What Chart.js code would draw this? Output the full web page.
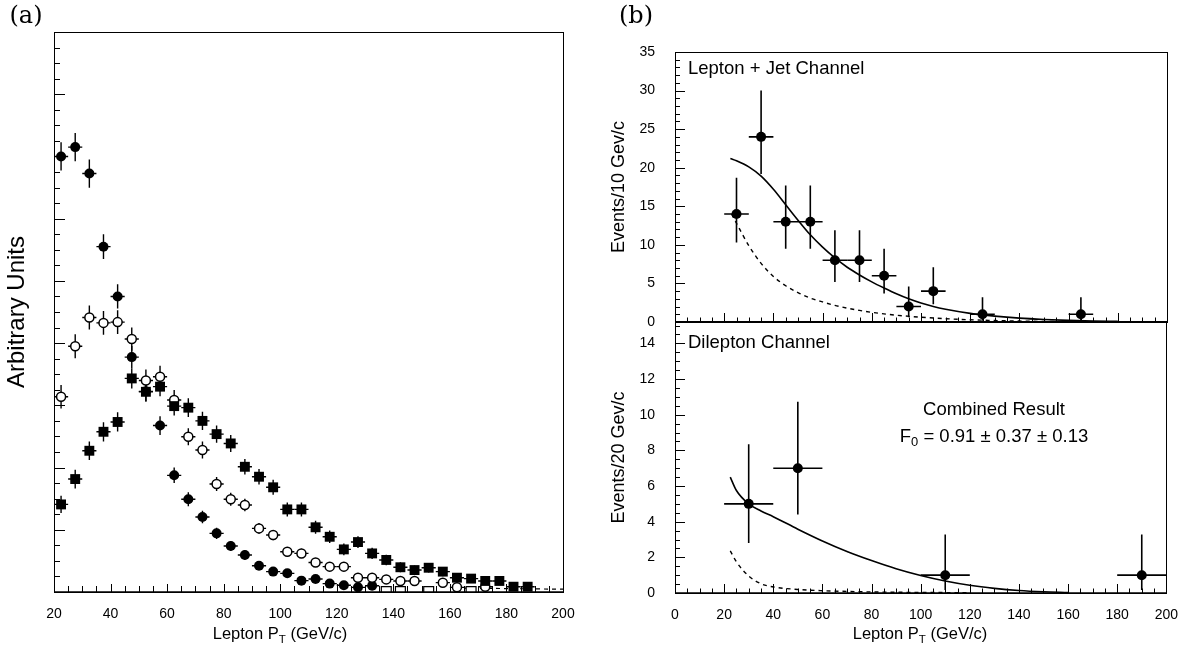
<!DOCTYPE html>
<html>
<head>
<meta charset="utf-8">
<script src="https://cdn.jsdelivr.net/npm/chart.js@4.4.0/dist/chart.umd.min.js"></script>
<style>
  html, body { margin: 0; padding: 0; background: #fff; }
  #wrap { position: relative; width: 1184px; height: 647px; overflow: hidden;
          font-family: "Liberation Sans", Arial, sans-serif; color: #000; }
  canvas { position: absolute; left: 0; top: 0; }
  .lbl { position: absolute; white-space: nowrap; line-height: 1; transform: translate(-50%, -50%); }
  .left { transform: translate(0, -50%); }
  .serif { font-family: "DejaVu Serif", "Liberation Serif", serif; font-size: 24px; }
  sub { font-size: 70%; vertical-align: -0.35em; line-height: 0; }
</style>
</head>
<body>
<div id="wrap">
  <canvas id="chartA" width="1184" height="647"></canvas>
  <canvas id="chartTop" width="1184" height="647"></canvas>
  <canvas id="chartBot" width="1184" height="647"></canvas>

  <div class="lbl serif" style="left:26px; top:15px;">(a)</div>
  <div class="lbl serif" style="left:636px; top:15px;">(b)</div>
  <div class="lbl" style="left:280px; top:633px; font-size:16.5px;">Lepton P<sub>T</sub> (GeV/c)</div>
  <div class="lbl" style="left:920px; top:633px; font-size:16.5px;">Lepton P<sub>T</sub> (GeV/c)</div>
  <div class="lbl left" style="left:688px; top:68px; font-size:18.5px;">Lepton + Jet Channel</div>
  <div class="lbl left" style="left:688px; top:342px; font-size:18.5px;">Dilepton Channel</div>
  <div class="lbl" style="left:994px; top:409px; font-size:18.5px;">Combined Result</div>
  <div class="lbl" style="left:994px; top:436px; font-size:18.5px;">F<sub>0</sub> = 0.91 ± 0.37 ± 0.13</div>
</div>

<script>
// ---------- panel (a): lepton pT shapes, 5 GeV bins
const binsA = [22.5, 27.5, 32.5, 37.5, 42.5, 47.5, 52.5, 57.5, 62.5, 67.5, 72.5, 77.5,
  82.5, 87.5, 92.5, 97.5, 102.5, 107.5, 112.5, 117.5, 122.5, 127.5, 132.5, 137.5,
  142.5, 147.5, 152.5, 157.5, 162.5, 167.5, 172.5, 177.5, 182.5, 187.5];

// filled circles
const circA = [28.0, 28.6, 26.9, 22.2, 19.0, 15.1, 12.9, 10.7, 7.5, 5.96, 4.82, 3.77,
  2.96, 2.38, 1.69, 1.31, 1.2, 0.73, 0.84, 0.54, 0.43, 0.3, 0.4, null,
  null, null, null, null, null, null, null, null, null, null];
const circErrA = [0.91, 0.91, 0.91, 0.8, 0.78, 0.72, 0.65, 0.6, 0.5, 0.45, 0.4, 0.36,
  0.32, 0.3, 0.27, 0.25, 0.24, 0.2, 0.2, 0.18, 0.16, 0.14, 0.15, null,
  null, null, null, null, null, null, null, null, null, null];

// open circles
const openA = [12.55, 15.8, 17.65, 17.3, 17.35, 16.26, 13.6, 13.84, 12.34, 9.98, 9.13, 6.94,
  5.96, 5.59, 4.09, 3.66, 2.59, 2.48, 1.9, 1.63, 1.63, 0.92, 0.92, 0.81,
  0.71, 0.71, null, 0.6, 0.3, null, 0.34, null, null, null];
const openErrA = [0.75, 0.77, 0.77, 0.77, 0.77, 0.75, 0.7, 0.7, 0.65, 0.55, 0.55, 0.45,
  0.42, 0.4, 0.35, 0.33, 0.3, 0.3, 0.27, 0.25, 0.25, 0.2, 0.2, 0.18,
  0.18, 0.18, null, 0.16, 0.12, null, 0.12, null, null, null];

// filled squares
const sqA = [5.63, 7.26, 9.08, 10.3, 10.93, 13.73, 12.87, 13.2, 11.95, 11.85, 11.0, 10.15,
  9.55, 8.05, 7.41, 6.73, 5.31, 5.31, 4.16, 3.55, 2.74, 3.21, 2.48, 2.06,
  1.59, 1.41, 1.56, 1.31, 0.92, 0.86, 0.71, 0.71, 0.34, 0.34];
const sqErrA = [0.55, 0.6, 0.6, 0.62, 0.62, 0.65, 0.62, 0.62, 0.6, 0.6, 0.58, 0.55,
  0.55, 0.5, 0.5, 0.48, 0.45, 0.45, 0.42, 0.4, 0.38, 0.38, 0.36, 0.34,
  0.32, 0.3, 0.3, 0.3, 0.28, 0.28, 0.26, 0.26, 0.24, 0.24];

// open squares sitting on the axis, and dashed tail
const tailBinsA = [137.5, 142.5, 152.5, 167.5];
const tailA = [0.03, 0.03, 0.03, 0.03];
const dashXA = [165, 200];
const dashYA = [0.25, 0.18];

const xTicksA = [20, 40, 60, 80, 100, 120, 140, 160, 180, 200];

// ---------- panel (b) top: lepton + jet, 10 GeV bins
const binsTop = [25, 35, 45, 55, 65, 75, 85, 95, 105, 125, 165];
const evTop = [14, 24, 13, 13, 8, 8, 6, 2, 4, 1, 1];
const errHiTop = [4.7, 6.0, 4.7, 4.7, 3.9, 3.9, 3.5, 2.6, 3.1, 2.2, 2.2];
const errLoTop = [3.7, 4.8, 3.5, 3.5, 2.8, 2.8, 2.3, 1.4, 1.7, 0.83, 0.83];
const fitXTop = [22.5, 25, 30, 35, 40, 45, 50, 55, 60, 65, 70, 75, 80, 85, 90, 95, 100,
  105, 110, 120, 130, 140, 150, 160, 170, 180];
const fitYTop = [21.2, 20.9, 20.1, 18.9, 17.2, 15.2, 13.2, 11.3, 9.7, 8.3, 7.1, 6.1, 5.2,
  4.4, 3.65, 3.0, 2.45, 2.0, 1.65, 1.12, 0.76, 0.5, 0.33, 0.21, 0.13, 0.08];
const bkgXTop = [23, 25, 30, 35, 40, 45, 50, 55, 60, 65, 70, 75, 80, 90, 100, 110, 120,
  130, 140, 160, 180];
const bkgYTop = [14.0, 12.8, 9.9, 7.6, 5.9, 4.7, 3.8, 3.1, 2.6, 2.15, 1.8, 1.5, 1.25, 0.88,
  0.62, 0.43, 0.29, 0.19, 0.12, 0.05, 0.02];
const yTicksTop = [0, 5, 10, 15, 20, 25, 30, 35];

// ---------- panel (b) bottom: dilepton, 20 GeV bins
const binsBot = [30, 50, 110, 190];
const evBot = [5, 7, 1, 1];
const errHiBot = [3.35, 3.73, 2.28, 2.28];
const errLoBot = [2.19, 2.6, 0.83, 0.83];
const fitXBot = [22.5, 25, 30, 35, 40, 50, 60, 70, 80, 90, 100, 110, 120, 130, 140, 150, 160];
const fitYBot = [6.5, 5.75, 5.0, 4.6, 4.28, 3.58, 2.92, 2.33, 1.82, 1.36, 0.98, 0.67, 0.43,
  0.26, 0.14, 0.07, 0.03];
const bkgXBot = [22.5, 25, 30, 35, 40, 50, 60, 70, 80, 100, 120];
const bkgYBot = [2.36, 1.75, 0.95, 0.52, 0.34, 0.2, 0.13, 0.09, 0.06, 0.03, 0.02];
const yTicksBot = [0, 2, 4, 6, 8, 10, 12, 14];
const xTicksBot = [0, 20, 40, 60, 80, 100, 120, 140, 160, 180, 200];

Chart.defaults.font.family = '"Liberation Sans", Arial, sans-serif';
Chart.defaults.color = '#000';

function points(xs, ys, ex, eyl, eyh) {
  const out = [];
  xs.forEach((x, i) => {
    if (ys[i] === null) return;
    out.push({ x: x, y: ys[i], ex: ex,
      eyl: eyl ? eyl[i] : 0, eyh: eyh ? eyh[i] : 0 });
  });
  return out;
}
function curve(xs, ys) {
  return xs.map((x, i) => ({ x: x, y: ys[i] }));
}

// error bars under the markers
const errorBars = {
  id: 'errorBars',
  beforeDatasetsDraw(chart) {
    const { ctx, chartArea: a, scales: { x, y } } = chart;
    ctx.save();
    ctx.beginPath();
    ctx.rect(a.left, a.top, a.right - a.left, a.bottom - a.top);
    ctx.clip();
    ctx.strokeStyle = '#000';
    chart.data.datasets.forEach(ds => {
      if (!ds.errorBars) return;
      ctx.lineWidth = ds.errorWidth;
      ds.data.forEach(p => {
        const px = x.getPixelForValue(p.x), py = y.getPixelForValue(p.y);
        ctx.beginPath();
        ctx.moveTo(x.getPixelForValue(p.x - p.ex), py);
        ctx.lineTo(x.getPixelForValue(p.x + p.ex), py);
        ctx.moveTo(px, y.getPixelForValue(p.y - p.eyl));
        ctx.lineTo(px, y.getPixelForValue(p.y + p.eyh));
        ctx.stroke();
      });
    });
    ctx.restore();
  }
};

// ROOT style frame with inward ticks
const frameTicks = {
  id: 'frameTicks',
  afterDatasetsDraw(chart, args, o) {
    const { ctx, chartArea: a, scales: { x, y } } = chart;
    ctx.save();
    ctx.strokeStyle = '#000';
    ctx.lineWidth = 1;
    ctx.strokeRect(Math.round(a.left) + 0.5, Math.round(a.top) + 0.5,
      Math.round(a.right - a.left), Math.round(a.bottom - a.top));
    ctx.beginPath();
    for (let v = x.min; v <= x.max + 1e-6; v += o.xMinor) {
      const px = Math.round(x.getPixelForValue(v)) + 0.5;
      const big = Math.abs(v / o.xMajor - Math.round(v / o.xMajor)) < 1e-6;
      ctx.moveTo(px, a.bottom);
      ctx.lineTo(px, a.bottom - (big ? o.xMajorLen : o.xMinorLen));
    }
    for (let v = y.min; v <= y.max + 1e-6; v += o.yMinor) {
      const py = Math.round(y.getPixelForValue(v)) + 0.5;
      const big = Math.abs(v / o.yMajor - Math.round(v / o.yMajor)) < 1e-6;
      ctx.moveTo(a.left, py);
      ctx.lineTo(a.left + (big ? o.yMajorLen : o.yMinorLen), py);
    }
    ctx.stroke();
    if (o.bottomWidth) {
      ctx.lineWidth = o.bottomWidth;
      ctx.beginPath();
      ctx.moveTo(a.left, a.bottom);
      ctx.lineTo(a.right, a.bottom);
      ctx.stroke();
    }
    ctx.restore();
  }
};

const base = {
  responsive: false,
  animation: false,
  events: [],
  plugins: { legend: { display: false }, tooltip: { enabled: false } }
};

// ---------- panel (a)
new Chart(document.getElementById('chartA'), {
  type: 'scatter',
  data: {
    datasets: [
      { data: points(binsA, sqA, 2.5, sqErrA, sqErrA), errorBars: true, errorWidth: 1.4,
        pointStyle: 'rect', pointRadius: 7, backgroundColor: '#000', borderColor: '#000',
        borderWidth: 0, clip: 0 },
      { data: points(binsA, openA, 2.5, openErrA, openErrA), errorBars: true, errorWidth: 1.4,
        pointStyle: 'circle', pointRadius: 4.5, backgroundColor: '#fff', borderColor: '#000',
        borderWidth: 1.5, clip: 0 },
      { data: points(binsA, circA, 2.5, circErrA, circErrA), errorBars: true, errorWidth: 1.4,
        pointStyle: 'circle', pointRadius: 5, backgroundColor: '#000', borderColor: '#000',
        borderWidth: 0, clip: 0 },
      { data: points(tailBinsA, tailA, 0), pointStyle: 'rect', pointRadius: 7,
        backgroundColor: '#fff', borderColor: '#000', borderWidth: 1.2, clip: 0 },
      { type: 'line', data: curve(dashXA, dashYA), borderColor: '#000', borderWidth: 1.2,
        borderDash: [4, 4], pointRadius: 0, clip: 0 }
    ]
  },
  options: Object.assign({}, base, {
    layout: { padding: { left: 0, top: 32, right: 621, bottom: 0 } },
    scales: {
      x: {
        type: 'linear', min: 20, max: 200,
        afterBuildTicks: s => { s.ticks = xTicksA.map(v => ({ value: v })); },
        afterFit: s => { s.height = 55; },
        ticks: { font: { size: 14 }, padding: 6, maxRotation: 0, autoSkip: false },
        grid: { display: false }, border: { display: false }
      },
      y: {
        type: 'linear', min: 0, max: 36,
        afterFit: s => { s.width = 54; },
        ticks: { display: false },
        grid: { display: false }, border: { display: false },
        title: { display: true, text: 'Arbitrary Units', font: { size: 24 },
          padding: { top: 3, bottom: 0 } }
      }
    },
    plugins: Object.assign({}, base.plugins, {
      frameTicks: { xMinor: 5, xMajor: 20, xMinorLen: 6, xMajorLen: 8,
        yMinor: 1, yMajor: 4, yMinorLen: 6, yMajorLen: 11, bottomWidth: 1.5 }
    })
  }),
  plugins: [errorBars, frameTicks]
});

// ---------- panel (b) top
new Chart(document.getElementById('chartTop'), {
  type: 'scatter',
  data: {
    datasets: [
      { data: points(binsTop, evTop, 5, errLoTop, errHiTop), errorBars: true, errorWidth: 1.6,
        pointStyle: 'circle', pointRadius: 5, backgroundColor: '#000', borderColor: '#000',
        borderWidth: 0, clip: 0 },
      { type: 'line', data: curve(fitXTop, fitYTop), borderColor: '#000', borderWidth: 1.6,
        cubicInterpolationMode: 'monotone', pointRadius: 0, clip: 0 },
      { type: 'line', data: curve(bkgXTop, bkgYTop), borderColor: '#000', borderWidth: 1.4,
        borderDash: [4, 4], cubicInterpolationMode: 'monotone', pointRadius: 0, clip: 0 }
    ]
  },
  options: Object.assign({}, base, {
    layout: { padding: { left: 600, top: 52, right: 17, bottom: 325 } },
    scales: {
      x: {
        type: 'linear', min: 0, max: 200,
        afterFit: s => { s.height = 0; },
        ticks: { display: false },
        grid: { display: false }, border: { display: false }
      },
      y: {
        type: 'linear', min: 0, max: 35,
        afterBuildTicks: s => { s.ticks = yTicksTop.map(v => ({ value: v })); },
        afterFit: s => { s.width = 75; },
        ticks: { font: { size: 14 }, padding: 12, autoSkip: false },
        grid: { display: false }, border: { display: false },
        title: { display: true, text: 'Events/10 Gev/c', font: { size: 18 },
          padding: { top: 8, bottom: 0 } }
      }
    },
    plugins: Object.assign({}, base.plugins, {
      frameTicks: { xMinor: 5, xMajor: 20, xMinorLen: 4.5, xMajorLen: 9,
        yMinor: 1, yMajor: 5, yMinorLen: 5, yMajorLen: 10, bottomWidth: 2 }
    })
  }),
  plugins: [errorBars, frameTicks]
});

// ---------- panel (b) bottom
new Chart(document.getElementById('chartBot'), {
  type: 'scatter',
  data: {
    datasets: [
      { data: points(binsBot, evBot, 10, errLoBot, errHiBot), errorBars: true, errorWidth: 1.6,
        pointStyle: 'circle', pointRadius: 5, backgroundColor: '#000', borderColor: '#000',
        borderWidth: 0, clip: 0 },
      { type: 'line', data: curve(fitXBot, fitYBot), borderColor: '#000', borderWidth: 1.6,
        cubicInterpolationMode: 'monotone', pointRadius: 0, clip: 0 },
      { type: 'line', data: curve(bkgXBot, bkgYBot), borderColor: '#000', borderWidth: 1.4,
        borderDash: [4, 4], cubicInterpolationMode: 'monotone', pointRadius: 0, clip: 0 }
    ]
  },
  options: Object.assign({}, base, {
    layout: { padding: { left: 600, top: 322, right: 17, bottom: 0 } },
    scales: {
      x: {
        type: 'linear', min: 0, max: 200,
        afterBuildTicks: s => { s.ticks = xTicksBot.map(v => ({ value: v })); },
        afterFit: s => { s.height = 54; },
        ticks: { font: { size: 14 }, padding: 6, maxRotation: 0, autoSkip: false },
        grid: { display: false }, border: { display: false }
      },
      y: {
        type: 'linear', min: 0, max: 15.2,
        afterBuildTicks: s => { s.ticks = yTicksBot.map(v => ({ value: v })); },
        afterFit: s => { s.width = 75; },
        ticks: { font: { size: 14 }, padding: 12, autoSkip: false },
        grid: { display: false }, border: { display: false },
        title: { display: true, text: 'Events/20 Gev/c', font: { size: 18 },
          padding: { top: 8, bottom: 0 } }
      }
    },
    plugins: Object.assign({}, base.plugins, {
      frameTicks: { xMinor: 5, xMajor: 20, xMinorLen: 4.5, xMajorLen: 9,
        yMinor: 0.5, yMajor: 2, yMinorLen: 5, yMajorLen: 10, bottomWidth: 1.5 }
    })
  }),
  plugins: [errorBars, frameTicks]
});
</script>
</body>
</html>
